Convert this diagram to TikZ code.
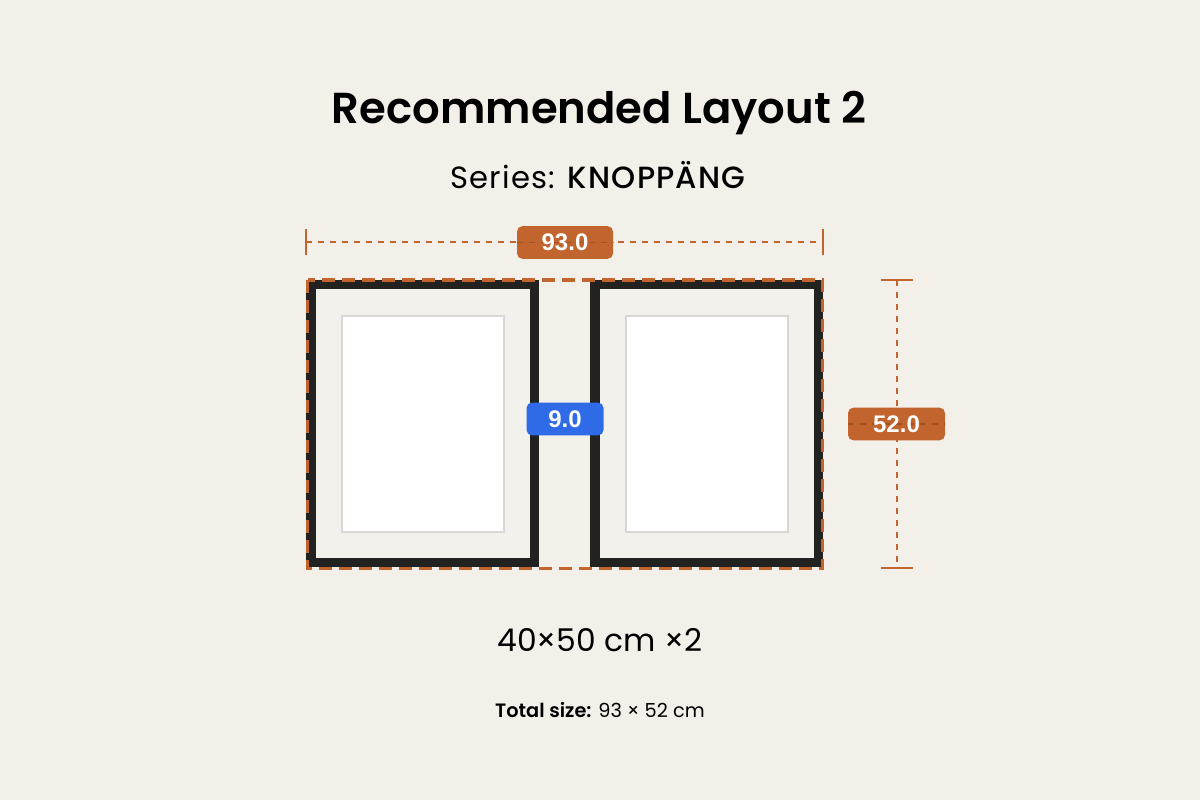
\documentclass[tikz,border=0pt]{standalone}
\usepackage{fontspec}
\setmainfont{Poppins}
\newfontfamily\semib{Poppins SemiBold}
\newfontfamily\medf{Poppins Medium}[LetterSpace=4]
\newfontfamily\subf{Poppins}[LetterSpace=4]
\newfontfamily\labelfont{Liberation Sans}
\definecolor{bg}{HTML}{F3F0EA}
\definecolor{dimorange}{HTML}{C2642D}
\definecolor{dimdark}{HTML}{8A4318}
\definecolor{gapblue}{HTML}{2F6BE7}
\definecolor{framedark}{HTML}{222321}
\definecolor{matcol}{HTML}{F2F1EC}
\definecolor{picborder}{HTML}{D8D7D2}
\tikzset{
  framebox/.style={fill=framedark, draw=none},
  matbox/.style={fill=matcol, draw=none},
  picbox/.style={fill=white, draw=picborder, line width=1.3pt},
  dimline/.style={draw=dimorange, line width=1.1pt, dash pattern=on 4.5pt off 4.5pt},
  dimtick/.style={draw=dimorange, line width=1.1pt},
  outlinebox/.style={draw=dimorange, line width=2.3pt, dash pattern=on 9.75pt off 5.25pt},
  labelbox/.style={fill=dimorange, draw=none, rounded corners=4pt, minimum width=72pt, minimum height=24.5pt, inner sep=0pt},
  gapbox/.style={labelbox, fill=gapblue, minimum width=57.75pt},
  labeltext/.style={text=white, inner sep=0pt, font=\labelfont\bfseries\fontsize{18}{18}\selectfont},
  overdash/.style={draw=dimdark, opacity=0.55, line width=1.1pt, dash pattern=on 4.5pt off 4.5pt},
  titletext/.style={font=\semib\fontsize{32.5}{36}\selectfont, text=black, inner sep=0pt},
  subtext/.style={font=\subf\fontsize{23}{25}\selectfont, text=black, inner sep=0pt},
  sizetext/.style={font=\fontsize{23.5}{26}\selectfont, text=black, inner sep=0pt},
  totaltext/.style={font=\fontsize{14.5}{16}\selectfont, text=black, inner sep=0pt},
}
\begin{document}
\begin{tikzpicture}[x=0.75pt, y=-0.75pt]
  \useasboundingbox (0,0) rectangle (1200,800);
  \fill[bg] (0,0) rectangle (1200,800);

  % titles
  \node[titletext] (title) at (599,113) {Recommended Layout 2};
  \node[subtext] (subtitle) at (598,175) {Series: {\medf KNOPPÄNG}};

  % frame 1
  \fill[framebox] (306,280) rectangle (539,567);
  \fill[matbox] (316,289) rectangle (530,558);
  \draw[picbox] (342,316) rectangle (504,532);
  % frame 2
  \fill[framebox] (590,280) rectangle (823,567);
  \fill[matbox] (600,289) rectangle (814,558);
  \draw[picbox] (626,316) rectangle (788,532);

  % overall outline
  \coordinate (o1) at (307.5,280);
  \coordinate (o2) at (822.5,568.5);
  \draw[outlinebox] (o1) rectangle (o2);

  % top dimension
  \coordinate (tl) at (306,242);
  \coordinate (tr) at (823,242);
  \draw[dimline] (tl) -- (tr);
  \draw[dimtick] ([yshift=-10]tl) -- ([yshift=10]tl);
  \draw[dimtick] ([yshift=-10]tr) -- ([yshift=10]tr);
  \node[labelbox] (wbox) at (565,242.5) {};
  \draw[overdash] (wbox.west) -- (wbox.east);
  \node[labeltext] (wtext) at (wbox) {93.0};

  % right dimension
  \coordinate (rt) at (897,280);
  \coordinate (rb) at (897,568);
  \draw[dimline] (rt) -- (rb);
  \draw[dimtick] ([xshift=-12]rt) -- ([xshift=12]rt);
  \draw[dimtick] ([xshift=-12]rb) -- ([xshift=12]rb);
  \node[labelbox, minimum width=72.75pt] (hbox) at (896.5,424) {};
  \draw[overdash] (hbox.west) -- (hbox.east);
  \node[labeltext] (htext) at (hbox) {52.0};

  % gap label
  \node[gapbox] (gbox) at (565,419) {};
  \node[labeltext] (gtext) at (gbox) {9.0};

  % captions
  \node[sizetext] (size) at (600,640) {40×50 cm ×2};
  \node[totaltext] (total) at (600,710) {{\semib Total size:} 93 × 52 cm};
\end{tikzpicture}
\end{document}
